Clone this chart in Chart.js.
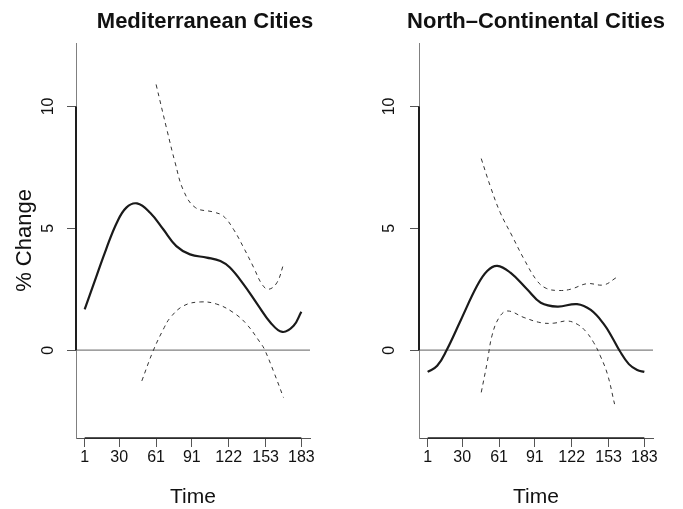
<!DOCTYPE html>
<html>
<head>
<meta charset="utf-8">
<script src="https://cdn.jsdelivr.net/npm/chart.js@4.4.1/dist/chart.umd.min.js"></script>
<style>
  html, body { margin: 0; padding: 0; background: #fff; }
  #wrap { position: relative; width: 683px; height: 509px; }
  canvas { position: absolute; top: 0; }
  #medChart { left: 0; }
  #northChart { left: 340px; }
</style>
</head>
<body>
<div id="wrap">
  <canvas id="medChart" width="340" height="509"></canvas>
  <canvas id="northChart" width="343" height="509"></canvas>
</div>
<script>
// axis ticks and limits (R style, 4% expansion)
const timeTicks = [1, 30, 61, 91, 122, 153, 183];
const changeTicks = [0, 5, 10];
const X_MIN = -6.28, X_MAX = 190.28;
const Y_MIN = -3.6, Y_MAX = 12.6;

// Mediterranean cities
const medFitTime = [1, 11, 19, 28, 36, 45, 56, 67, 78, 89.5, 103.5, 115, 123, 134.5, 146, 157, 167, 176.5, 183];
const medFit = [1.68, 3.05, 4.14, 5.23, 5.85, 6.02, 5.64, 4.96, 4.27, 3.93, 3.8, 3.66, 3.39, 2.7, 1.89, 1.14, 0.75, 1.0, 1.58];
const medUpperTime = [61, 70, 77, 84, 94, 109, 117.5, 126, 134.5, 143, 150, 155.5, 162.5, 168];
const medUpper = [10.9, 9.06, 7.69, 6.55, 5.85, 5.67, 5.5, 4.96, 4.21, 3.39, 2.7, 2.5, 2.77, 3.52];
const medLowerTime = [49, 58.5, 67, 73, 84, 98, 112, 126, 137, 148.5, 152, 160, 168];
const medLower = [-1.26, -0.03, 0.85, 1.34, 1.82, 1.98, 1.89, 1.54, 1.07, 0.31, 0.04, -0.91, -1.94];

// North-continental cities
const northFitTime = [1, 9, 17, 28.5, 42.5, 51, 59.5, 70.5, 84.5, 96, 110, 126.5, 138, 149, 156, 162, 170, 177, 183];
const northFit = [-0.89, -0.64, 0.01, 1.2, 2.64, 3.25, 3.46, 3.18, 2.5, 1.95, 1.79, 1.89, 1.65, 1.07, 0.52, 0, -0.57, -0.81, -0.89];
const northUpperTime = [46, 54, 62, 72, 82, 93, 101, 111, 121, 135, 149, 159.5];
const northUpper = [7.86, 6.67, 5.64, 4.68, 3.73, 2.84, 2.53, 2.45, 2.5, 2.73, 2.68, 2.98];
const northLowerTime = [46, 51, 55, 61, 68, 82, 96, 107, 118, 126.5, 133.5, 140.5, 146, 152, 158];
const northLower = [-1.73, -0.5, 0.59, 1.34, 1.61, 1.34, 1.13, 1.11, 1.2, 1.07, 0.79, 0.31, -0.23, -0.98, -2.21];

const FONT = "'Liberation Sans', Arial, Helvetica, sans-serif";

function toPoints(xs, ys) {
    return xs.map((x, i) => ({ x: x, y: ys[i] }));
}

// zero line and the black axis() segments drawn over the grey box
const rAxisPlugin = {
    id: 'rAxis',
    beforeDatasetsDraw(chart) {
        const { ctx, chartArea, scales } = chart;
        const x = scales.x, y = scales.y;
        const y0 = y.getPixelForValue(0);
        ctx.save();
        ctx.strokeStyle = '#808080';
        ctx.lineWidth = 1.3;
        ctx.beginPath();
        ctx.moveTo(chartArea.left, y0);
        ctx.lineTo(chartArea.right, y0);
        ctx.stroke();

        ctx.strokeStyle = '#1e1e1e';
        ctx.lineWidth = 2;
        ctx.beginPath();
        ctx.moveTo(chartArea.left, y.getPixelForValue(changeTicks[0]));
        ctx.lineTo(chartArea.left, y.getPixelForValue(changeTicks[changeTicks.length - 1]));
        ctx.stroke();

        ctx.lineWidth = 1.5;
        ctx.beginPath();
        ctx.moveTo(x.getPixelForValue(timeTicks[0]), chartArea.bottom);
        ctx.lineTo(x.getPixelForValue(timeTicks[timeTicks.length - 1]), chartArea.bottom);
        ctx.stroke();
        ctx.restore();
    }
};

// main title, centred over the plot region (R's title()), not squeezed to its width
const rTitlePlugin = {
    id: 'rTitle',
    afterDraw(chart, args, options) {
        const { ctx, chartArea } = chart;
        ctx.save();
        ctx.fillStyle = '#111';
        ctx.font = 'bold 22px ' + FONT;
        ctx.textAlign = 'center';
        ctx.textBaseline = 'middle';
        ctx.fillText(options.text, (chartArea.left + chartArea.right) / 2 + options.shift, 22);
        ctx.restore();
    }
};

function makeChart(canvasId, opts) {
    const ctx = document.getElementById(canvasId).getContext('2d');
    return new Chart(ctx, {
        type: 'scatter',
        data: {
            datasets: [{
                data: toPoints(opts.fitTime, opts.fit),
                borderColor: '#1a1a1a',
                borderWidth: 2.2
            }, {
                data: toPoints(opts.upperTime, opts.upper),
                borderColor: '#333',
                borderWidth: 1,
                borderDash: [4, 4]
            }, {
                data: toPoints(opts.lowerTime, opts.lower),
                borderColor: '#333',
                borderWidth: 1,
                borderDash: [4, 4]
            }].map(ds => Object.assign(ds, {
                showLine: true,
                pointRadius: 0,
                tension: 0.4,
                fill: false
            }))
        },
        options: {
            responsive: false,
            animation: false,
            events: [],
            layout: { padding: { left: 0, right: 30, top: 43, bottom: 0 } },
            plugins: {
                legend: { display: false },
                tooltip: { enabled: false },
                title: { display: false },
                rTitle: { text: opts.title, shift: opts.titleShift }
            },
            scales: {
                x: {
                    type: 'linear',
                    min: X_MIN,
                    max: X_MAX,
                    afterBuildTicks: scale => { scale.ticks = timeTicks.map(v => ({ value: v })); },
                    afterFit: scale => { scale.height = 71; },
                    border: { display: true, color: '#555', width: 1 },
                    grid: { display: true, drawOnChartArea: false, drawTicks: true, tickLength: 9, tickColor: '#555' },
                    ticks: {
                        color: '#111',
                        font: { family: FONT, size: 16 },
                        padding: 1,
                        maxRotation: 0,
                        autoSkip: false,
                        callback: v => String(v)
                    },
                    title: {
                        display: true,
                        text: 'Time',
                        color: '#111',
                        font: { family: FONT, size: 21, lineHeight: 1 },
                        padding: { top: 0, bottom: 1 }
                    }
                },
                y: {
                    type: 'linear',
                    min: Y_MIN,
                    max: Y_MAX,
                    afterBuildTicks: scale => { scale.ticks = changeTicks.map(v => ({ value: v })); },
                    afterFit: scale => { scale.width = opts.yWidth; },
                    border: { display: true, color: '#808080', width: 1 },
                    grid: { display: true, drawOnChartArea: false, drawTicks: true, tickLength: 9, tickColor: '#555' },
                    ticks: {
                        color: '#111',
                        font: { family: FONT, size: 16 },
                        minRotation: 90,
                        maxRotation: 90,
                        crossAlign: 'center',
                        padding: opts.yTickPad,
                        callback: v => String(v)
                    },
                    title: {
                        display: opts.yTitle !== '',
                        text: opts.yTitle,
                        color: '#111',
                        font: { family: FONT, size: 22, lineHeight: 1.2 },
                        padding: { top: 12, bottom: 0 }
                    }
                }
            }
        },
        plugins: [rAxisPlugin, rTitlePlugin]
    });
}

document.addEventListener('DOMContentLoaded', function() {
    makeChart('medChart', {
        title: 'Mediterranean Cities',
        titleShift: 12,
        yTitle: '% Change',
        yWidth: 76,
        yTickPad: 9.5,
        fitTime: medFitTime, fit: medFit,
        upperTime: medUpperTime, upper: medUpper,
        lowerTime: medLowerTime, lower: medLower
    });
    makeChart('northChart', {
        title: 'North\u2013Continental Cities',
        titleShift: 0,
        yTitle: '',
        yWidth: 79,
        yTickPad: 12,
        fitTime: northFitTime, fit: northFit,
        upperTime: northUpperTime, upper: northUpper,
        lowerTime: northLowerTime, lower: northLower
    });
});
</script>
</body>
</html>
